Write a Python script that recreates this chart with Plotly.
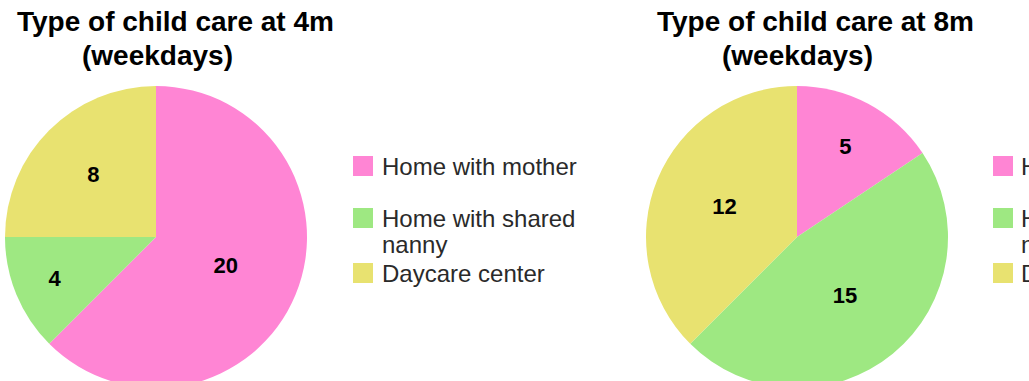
import plotly.graph_objects as go

# ---- data ----
labels = ["Home with mother", "Home with shared\nnanny", "Daycare center"]
values_4m = [20, 4, 8]
values_8m = [5, 15, 12]
colors = ["#FF85D4", "#9EE882", "#E8E270"]
title_4m = ["Type of child care at 4m", "(weekdays)"]
title_8m = ["Type of child care at 8m", "(weekdays)"]

W, H = 1029, 390

def fx(px):
    return px / W

def fy(py):
    return 1 - py / H

fig = go.Figure()

pie_common = dict(
    sort=False,
    direction="clockwise",
    rotation=0,
    textinfo="value",
    textposition="inside",
    insidetextorientation="horizontal",
    insidetextfont=dict(family="Liberation Sans", size=22, color="black", weight="bold"),
    marker=dict(colors=colors, line=dict(width=0)),
    showlegend=False,
    hoverinfo="label+value",
)

plot_labels = [l.replace("\n", " ") for l in labels]

# pie centres / radius (px)
R = 151
pies = [(156, 237, values_4m), (797, 237, values_8m)]
for cx, cy, vals in pies:
    fig.add_trace(go.Pie(
        labels=plot_labels, values=vals,
        domain=dict(x=[fx(cx - R), fx(cx + R)], y=[fy(cy + R), fy(cy - R)]),
        **pie_common,
    ))

annotations = []
shapes = []

# titles
tfont = dict(family="Liberation Sans", size=28, color="black", weight="bold")
for x0, title in [(0, title_4m), (640, title_8m)]:
    annotations.append(dict(text=title[0], x=fx(x0 + 175), y=fy(21), xref="paper", yref="paper",
                            xanchor="center", yanchor="middle", showarrow=False, font=tfont))
    annotations.append(dict(text=title[1], x=fx(x0 + 157), y=fy(56), xref="paper", yref="paper",
                            xanchor="center", yanchor="middle", showarrow=False, font=tfont))

# legends
row_centres = [166, 218, 273]
line_gap = 26
for sx, tx in [(353, 380), (993, 1019)]:
    for lab, col, yc in zip(labels, colors, row_centres):
        shapes.append(dict(type="rect", xref="paper", yref="paper",
                           x0=fx(sx), x1=fx(sx + 20), y0=fy(yc + 10), y1=fy(yc - 10),
                           fillcolor=col, line=dict(width=0)))
        for i, line in enumerate(lab.split("\n")):
            annotations.append(dict(text=line, x=fx(tx), y=fy(yc + i * line_gap), xref="paper", yref="paper",
                                    xanchor="left", yanchor="middle", showarrow=False,
                                    font=dict(family="Liberation Sans", size=24, color="#2a2a2a")))

fig.update_layout(
    width=W, height=H,
    margin=dict(l=0, r=0, t=0, b=0, autoexpand=False),
    paper_bgcolor="white", plot_bgcolor="white",
    annotations=annotations, shapes=shapes,
)

fig.write_html("out.html")
